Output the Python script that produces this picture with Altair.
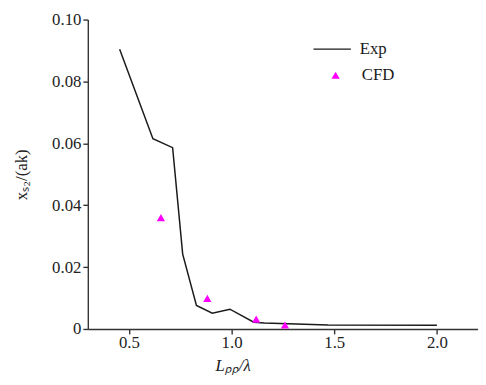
import altair as alt
import pandas as pd

exp_x = [0.455, 0.617, 0.713, 0.762, 0.829, 0.906, 0.992, 1.108, 1.16, 1.47, 2.0]
exp_y = [0.0904, 0.0615, 0.0586, 0.0242, 0.0076, 0.0051, 0.0064, 0.0022, 0.0019, 0.0013, 0.0012]
cfd_x = [0.656, 0.882, 1.12, 1.26]
cfd_y = [0.036, 0.0099, 0.0032, 0.0013]
x_ticks = [0.5, 1.0, 1.5, 2.0]
y_ticks = [0, 0.02, 0.04, 0.06, 0.08, 0.10]

exp_df = pd.DataFrame({"x": exp_x, "y": exp_y, "s": "Exp"})
cfd_df = pd.DataFrame({"x": cfd_x, "y": cfd_y, "s": "CFD"})

FONT = "Liberation Serif"
FS = 17
W, H = 396, 314
xscale = alt.Scale(domain=[0.3, 2.2], nice=False, zero=False)
yscale = alt.Scale(domain=[0, 0.10], nice=False, zero=True)

line = alt.Chart(exp_df).mark_line(strokeWidth=1.5).encode(
    x=alt.X("x:Q", scale=xscale, axis=alt.Axis(
        values=x_ticks, format=".1f", title="Lₚₚ/λ", ticks=True, tickSize=5,
        tickColor="#333", tickWidth=1.4, grid=False,
        labelPadding=1, titleX=147, titleY=37, titleBaseline="middle",
        titleFontStyle="italic", titleFontWeight="normal")),
    y=alt.Y("y:Q", scale=yscale, axis=alt.Axis(
        values=y_ticks, labelExpr="datum.value == 0 ? '0' : format(datum.value, '.2f')",
        title="xₛ₂/(ak)", ticks=True, tickSize=5, tickColor="#333", tickWidth=1.4,
        labelPadding=2, grid=False,
        titleX=-67, titleBaseline="middle", titleFontWeight="normal")),
    color=alt.Color("s:N", scale=alt.Scale(domain=["Exp"], range=["#1a1a1a"]),
                    legend=alt.Legend(orient="none", legendX=228, legendY=10, title=None,
                                      symbolType="stroke", symbolSize=1444,
                                      symbolStrokeWidth=1.5, labelOffset=8, padding=0,
                                      labelFont=FONT, labelFontSize=FS, labelColor="#1a1a1a")),
)

points = alt.Chart(cfd_df).mark_point(filled=True, size=70, opacity=1).encode(
    x=alt.X("x:Q", scale=xscale),
    y=alt.Y("y:Q", scale=yscale),
    shape=alt.Shape("s:N", scale=alt.Scale(domain=["CFD"], range=["triangle-up"]),
                    legend=alt.Legend(orient="none", legendX=243, legendY=48, title=None,
                                      symbolFillColor="#ff00ff", symbolStrokeWidth=0,
                                      symbolSize=70, labelOffset=18, padding=0,
                                      labelFont=FONT, labelFontSize=FS, labelColor="#1a1a1a")),
    color=alt.value("#ff00ff"),
)

chart = alt.layer(line, points).properties(
    width=W, height=H, background="white",
    autosize=alt.AutoSizeParams(type="none"),
    padding={"left": 81, "top": 9, "right": 0, "bottom": 46},
).configure_view(stroke=None).configure_axis(
    labelFont=FONT, labelFontSize=FS, labelColor="#222",
    titleFont=FONT, titleFontSize=FS, titleColor="#222",
    domainColor="#333", domainWidth=1.4, grid=False,
)

chart.save("out.html", embed_options={"renderer": "svg", "actions": False})
